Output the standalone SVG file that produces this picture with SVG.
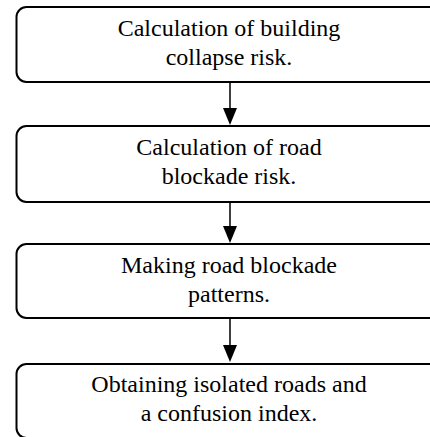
<svg xmlns="http://www.w3.org/2000/svg" width="430" height="437" viewBox="0 0 430 437">
<defs>
<style>
.box{fill:#fff;stroke:#000;stroke-width:2}
.lbl{font-family:"Liberation Serif","Times New Roman",serif;font-size:24px;fill:#000;text-anchor:middle}
.conn{stroke:#000;stroke-width:1.5;fill:none}
.head{fill:#000;stroke:none}
</style>
</defs>
<rect width="430" height="437" fill="#fff"/>
<g id="connectors">
<line class="conn" x1="230" y1="82" x2="230" y2="110"/>
<polygon class="head" points="223,108 237,108 230,125"/>
<line class="conn" x1="230" y1="202" x2="230" y2="228"/>
<polygon class="head" points="223,226 237,226 230,243"/>
<line class="conn" x1="230" y1="318" x2="230" y2="347"/>
<polygon class="head" points="223,345 237,345 230,362"/>
</g>
<g id="node1">
<rect class="box" x="16.5" y="7" width="427" height="75" rx="10"/>
<text class="lbl" x="229" y="35.5">Calculation of building</text>
<text class="lbl" x="229" y="65">collapse risk.</text>
</g>
<g id="node2">
<rect class="box" x="16.5" y="126" width="427" height="76" rx="10"/>
<text class="lbl" x="229" y="154.5">Calculation of road</text>
<text class="lbl" x="229" y="184">blockade risk.</text>
</g>
<g id="node3">
<rect class="box" x="16.5" y="244" width="427" height="74" rx="10"/>
<text class="lbl" x="229" y="272.5">Making road blockade</text>
<text class="lbl" x="229" y="302">patterns.</text>
</g>
<g id="node4">
<rect class="box" x="16.5" y="364" width="427" height="74" rx="10"/>
<text class="lbl" x="229" y="392">Obtaining isolated roads and</text>
<text class="lbl" x="229" y="421">a confusion index.</text>
</g>
</svg>
